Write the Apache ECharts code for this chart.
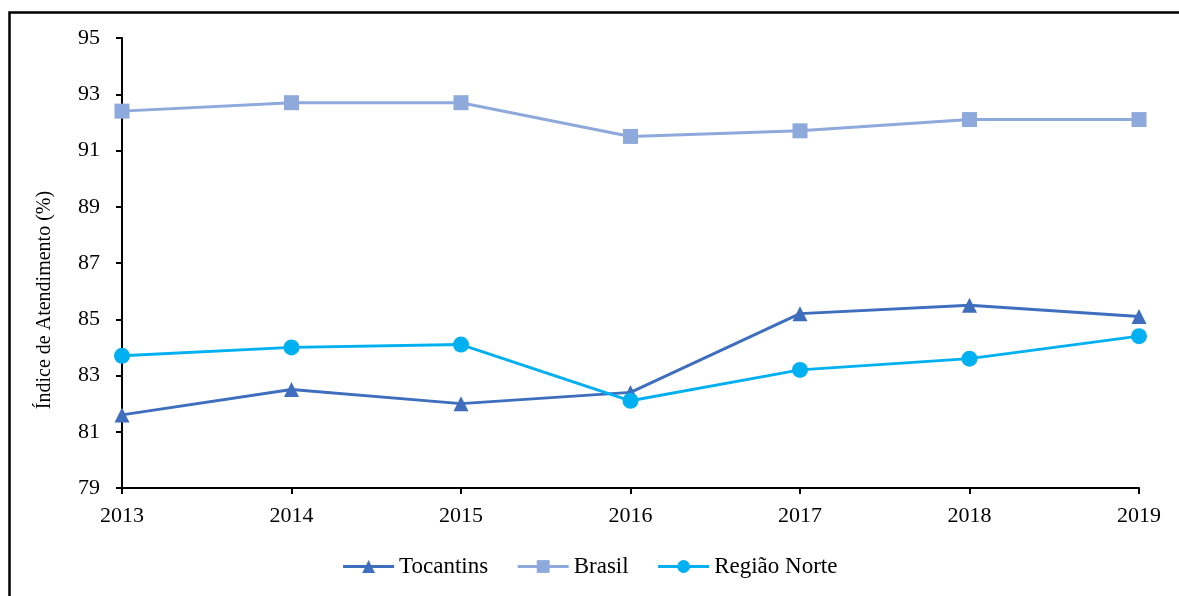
<!DOCTYPE html>
<html>
<head>
<meta charset="utf-8">
<script src="https://cdn.jsdelivr.net/npm/echarts@6/dist/echarts.min.js"></script>
<style>
  html, body { margin: 0; padding: 0; background: #fff; }
  #chart { width: 1179px; height: 596px; }
</style>
</head>
<body>
<div id="chart"></div>
<script>
// anos e valores
const years = ['2013', '2014', '2015', '2016', '2017', '2018', '2019'];
const tocantins = [81.6, 82.5, 82.0, 82.4, 85.2, 85.5, 85.1];
const brasil = [92.4, 92.7, 92.7, 91.5, 91.7, 92.1, 92.1];
const regiaoNorte = [83.7, 84.0, 84.1, 82.1, 83.2, 83.6, 84.4];

const serif = '"Liberation Serif", "Times New Roman", serif';

function lineSeries(name, data, color, symbol, size) {
  return {
    name: name,
    type: 'line',
    data: data,
    symbol: symbol,
    symbolSize: size,
    color: color,
    lineStyle: { width: 3, color: color },
    itemStyle: { color: color },
    emphasis: { disabled: true }
  };
}

var chart = echarts.init(document.getElementById('chart'));

var option = {
  animation: false,
  textStyle: { fontFamily: serif },
  graphic: [
    {
      type: 'rect',
      left: 7, top: 10,
      shape: { width: 1200, height: 600 },
      style: { fill: null, stroke: '#000', lineWidth: 2.5 },
      silent: true
    },
    {
      type: 'text',
      x: 45, y: 300,
      rotation: Math.PI / 2,
      style: {
        text: 'Índice de Atendimento (%)',
        font: '20px ' + serif,
        fill: '#000',
        align: 'center',
        verticalAlign: 'middle'
      }
    }
  ],
  grid: { left: 122, right: 40, top: 38, bottom: 108 },
  legend: {
    bottom: 13,
    left: 'center',
    itemWidth: 51,
    itemHeight: 16,
    itemGap: 28,
    lineStyle: { width: 3 },
    textStyle: { fontFamily: serif, fontSize: 23, color: '#000' },
    data: ['Tocantins', 'Brasil', 'Região Norte']
  },
  xAxis: {
    type: 'category',
    data: years,
    boundaryGap: false,
    axisLine: { lineStyle: { color: '#000', width: 2 } },
    axisTick: { show: true, alignWithLabel: true, length: 6, lineStyle: { color: '#000', width: 2 } },
    axisLabel: { color: '#000', fontSize: 22, fontFamily: serif, margin: 17 }
  },
  yAxis: {
    type: 'value',
    min: 79,
    max: 95,
    interval: 2,
    splitLine: { show: false },
    axisLine: { show: true, lineStyle: { color: '#000', width: 2 } },
    axisTick: { show: true, length: 6, lineStyle: { color: '#000', width: 2 } },
    axisLabel: { color: '#000', fontSize: 22, fontFamily: serif, margin: 22 }
  },
  series: [
    lineSeries('Tocantins', tocantins, '#3E6EBD', 'triangle', 15),
    lineSeries('Brasil', brasil, '#8EA9DB', 'rect', 15),
    lineSeries('Região Norte', regiaoNorte, '#00B0F0', 'circle', 16)
  ]
};

chart.setOption(option);
</script>
</body>
</html>
